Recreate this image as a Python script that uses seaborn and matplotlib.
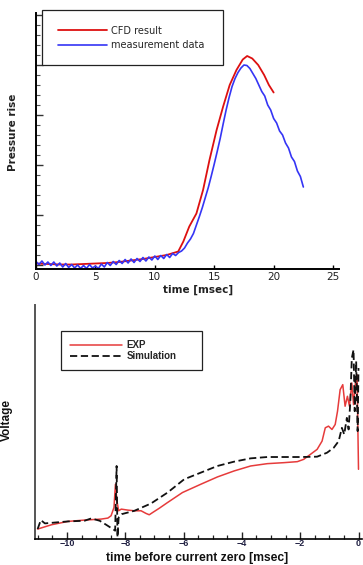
import numpy as np
import pandas as pd
import matplotlib
matplotlib.use("Agg")
import matplotlib.pyplot as plt
from matplotlib.ticker import MultipleLocator, NullFormatter
import seaborn as sns

# ---------------- data: top panel ----------------
cfd_time = [0, 1, 2, 3, 4, 5, 6, 7, 8, 9, 10, 11, 11.97, 12.4, 12.9, 13.5, 14.06,
            14.6, 15.2, 15.75, 16.3, 16.87, 17.4, 17.77, 18.2, 18.7, 19.2, 19.6, 20.0]
cfd_value = [0.03, 0.02, 0.01, 0.01, 0.02, 0.03, 0.04, 0.06, 0.09, 0.12, 0.16, 0.20,
             0.27, 0.47, 0.77, 1.03, 1.50, 2.10, 2.70, 3.17, 3.60, 3.90, 4.11, 4.18,
             4.13, 4.00, 3.80, 3.60, 3.45]

meas_time = [0.00, 0.25, 0.50, 0.75, 1.00, 1.25, 1.50, 1.75, 2.00, 2.25, 2.50, 2.75,
             3.00, 3.25, 3.50, 3.75, 4.00, 4.25, 4.50, 4.75, 5.00, 5.25, 5.50, 5.75,
             6.00, 6.25, 6.50, 6.75, 7.00, 7.25, 7.50, 7.75, 8.00, 8.25, 8.50, 8.75,
             9.00, 9.25, 9.50, 9.75, 10.00, 10.25, 10.50, 10.75, 11.00, 11.25, 11.50,
             11.75, 12.00, 12.25, 12.50, 12.75, 13.00, 13.25, 13.50, 13.75, 14.00,
             14.25, 14.50, 14.75, 15.00, 15.25, 15.50, 15.75, 16.00, 16.25, 16.50,
             16.75, 17.00, 17.25, 17.50, 17.75, 18.00, 18.25, 18.50, 18.75, 19.00,
             19.25, 19.50, 19.75, 20.00, 20.25, 20.50, 20.75, 21.00, 21.25, 21.50,
             21.75, 22.00, 22.25, 22.50]
meas_value = [0.07, 0.01, 0.08, 0.00, 0.06, -0.01, 0.06, -0.02, 0.04, -0.04, 0.03, -0.05,
              0.01, -0.06, 0.00, -0.07, -0.01, -0.07, 0.01, -0.06, -0.02, -0.07, 0.02,
              -0.04, 0.05, -0.01, 0.07, 0.01, 0.09, 0.03, 0.11, 0.04, 0.12, 0.05, 0.13,
              0.07, 0.15, 0.08, 0.16, 0.10, 0.18, 0.11, 0.19, 0.13, 0.21, 0.15, 0.23,
              0.19, 0.25, 0.28, 0.34, 0.44, 0.52, 0.63, 0.80, 0.97, 1.15, 1.35, 1.55,
              1.78, 2.02, 2.27, 2.53, 2.82, 3.10, 3.35, 3.57, 3.73, 3.85, 3.94, 4.00,
              3.99, 3.93, 3.83, 3.73, 3.60, 3.47, 3.38, 3.20, 3.10, 2.93, 2.84, 2.68,
              2.60, 2.44, 2.34, 2.16, 2.07, 1.88, 1.77, 1.56]

top_xticks = [0, 5, 10, 15, 20, 25]

# ---------------- data: bottom panel ----------------
exp_time = [-11.01, -10.53, -9.97, -9.40, -8.83, -8.60, -8.49, -8.39, -8.34, -8.29,
            -8.23, -8.14, -7.91, -7.69, -7.46, -7.29, -7.18, -7.06, -6.83, -6.55,
            -6.04, -5.41, -4.84, -4.27, -3.70, -3.13, -2.56, -2.10, -1.88, -1.65,
            -1.42, -1.25, -1.14, -1.03, -0.91, -0.80, -0.72, -0.63, -0.54, -0.46,
            -0.38, -0.31, -0.23, -0.17, -0.10, -0.05, 0.00]
exp_value = [0.30, 0.43, 0.53, 0.57, 0.60, 0.63, 0.70, 0.95, 1.65, 1.15,
             0.85, 0.90, 0.87, 0.85, 0.85, 0.77, 0.73, 0.80, 0.93, 1.10,
             1.40, 1.65, 1.87, 2.05, 2.20, 2.27, 2.30, 2.33, 2.40, 2.55,
             2.70, 2.95, 3.35, 3.40, 3.30, 3.45, 3.85, 4.50, 4.65, 4.00,
             4.30, 4.00, 4.70, 4.05, 4.75, 4.95, 2.10]

sim_time = [-11.01, -10.90, -10.76, -9.97, -9.40, -9.17, -8.88, -8.66, -8.43, -8.35,
            -8.30, -8.27, -8.23, -8.12, -7.69, -7.12, -6.55, -5.98, -5.41, -4.84,
            -4.27, -3.70, -3.13, -2.56, -1.99, -1.42, -1.08, -0.85, -0.68, -0.57,
            -0.49, -0.40, -0.34, -0.28, -0.23, -0.17, -0.13, -0.08, -0.03, 0.00]
sim_value = [0.30, 0.57, 0.47, 0.53, 0.55, 0.62, 0.55, 0.43, 0.30, 0.25,
             2.20, 0.05, 0.65, 0.75, 0.85, 1.07, 1.40, 1.80, 2.00, 2.20,
             2.33, 2.43, 2.47, 2.47, 2.47, 2.48, 2.60, 2.75, 2.95, 3.35,
             3.15, 3.65, 3.30, 4.15, 5.45, 5.70, 3.85, 5.35, 3.25, 5.15]

bottom_xticks = [-10, -8, -6, -4, -2, 0]

# ---------------- figure ----------------
sns.set_theme(style="white")
plt.rcParams["font.family"] = ["DejaVu Sans"]

W, H = 363, 565
fig = plt.figure(figsize=(W / 100, H / 100), dpi=100)


def px_rect(left, top, right, bottom):
    return [left / W, 1 - bottom / H, (right - left) / W, (bottom - top) / H]


# ---- top panel ----
ax1 = fig.add_axes(px_rect(36, 13, 339, 269))
top_df = pd.DataFrame({"t": cfd_time, "v": cfd_value})
meas_df = pd.DataFrame({"t": meas_time, "v": meas_value})
sns.lineplot(data=top_df, x="t", y="v", ax=ax1, color="#dd1010", lw=1.3,
             estimator=None, label="CFD result")
sns.lineplot(data=meas_df, x="t", y="v", ax=ax1, color="#3535f5", lw=1.2,
             estimator=None, label="measurement data")
ax1.set_xlim(0, 25.5)
ax1.set_ylim(-0.08, 5.04)
ax1.set_xticks(top_xticks)
ax1.yaxis.set_major_locator(MultipleLocator(1))
ax1.yaxis.set_minor_locator(MultipleLocator(0.2))
ax1.yaxis.set_major_formatter(NullFormatter())
for s in ["top", "right"]:
    ax1.spines[s].set_visible(False)
for s in ["left", "bottom"]:
    ax1.spines[s].set_color("black")
    ax1.spines[s].set_linewidth(1.4)
ax1.tick_params(axis="y", which="major", direction="in", length=5, width=1.0,
                color="#333333", left=True)
ax1.tick_params(axis="y", which="minor", direction="in", length=3, width=0.8,
                color="#555555", left=True)
ax1.tick_params(axis="x", which="major", direction="in", length=3, width=1.0,
                color="black", bottom=True, pad=2, labelsize=7.5, labelcolor="#222222")
ax1.set_xlabel("time [msec]", fontsize=7.5, fontweight="bold", color="#222222")
ax1.set_ylabel("Pressure rise", fontsize=7.5, fontweight="bold", color="#222222")
ax1.xaxis.set_label_coords(0.535, -0.082)
ax1.xaxis.label.set_va("center")
ax1.yaxis.set_label_coords(-0.076, 0.535)
ax1.yaxis.label.set_va("center")
leg1 = ax1.legend(loc="upper left", bbox_to_anchor=px_rect(42, 10, 223, 64),
                  bbox_transform=fig.transFigure, mode="expand", borderaxespad=0,
                  fontsize=7, frameon=True, fancybox=False, handlelength=5.1,
                  handletextpad=0.35, borderpad=1.6, labelspacing=0.45)
leg1.get_frame().set_edgecolor("#222222")
leg1.get_frame().set_linewidth(0.9)
leg1.get_frame().set_alpha(1)

# ---- bottom panel ----
ax2 = fig.add_axes(px_rect(35, 305, 362, 539))
exp_df = pd.DataFrame({"t": exp_time, "v": exp_value})
sim_df = pd.DataFrame({"t": sim_time, "v": sim_value})
sns.lineplot(data=exp_df, x="t", y="v", ax=ax2, color="#e63b3b", lw=1.1,
             estimator=None, sort=False, label="EXP")
sns.lineplot(data=sim_df, x="t", y="v", ax=ax2, color="#111111", lw=1.3,
             estimator=None, sort=False, label="Simulation", dashes=False,
             linestyle=(0, (4, 2)))
ax2.set_xlim(-11.1, 0.12)
ax2.set_ylim(0, 7.05)
ax2.set_xticks(bottom_xticks)
ax2.xaxis.set_minor_locator(MultipleLocator(0.5))
ax2.set_yticks([])
for s in ["top", "right"]:
    ax2.spines[s].set_visible(False)
ax2.spines["left"].set_color("#555555")
ax2.spines["left"].set_linewidth(1.4)
ax2.spines["bottom"].set_color("black")
ax2.spines["bottom"].set_linewidth(1.2)
ax2.tick_params(axis="x", which="major", direction="in", length=5, width=1.0,
                color="#222222", bottom=True, pad=0.3, labelsize=6.5, labelcolor="#222244")
ax2.tick_params(axis="x", which="minor", direction="in", length=3, width=0.9,
                color="#222222", bottom=True)
for lab in ax2.get_xticklabels():
    lab.set_fontfamily("Liberation Sans")
    lab.set_fontweight("bold")
ax2.set_xlabel("time before current zero [msec]", fontsize=8.7, fontweight="bold",
               color="#111111", family="Liberation Sans")
ax2.set_ylabel("Voltage", fontsize=8.5, fontweight="bold", color="#111111",
               family="Liberation Sans")
ax2.xaxis.set_label_coords(0.495, -0.081)
ax2.xaxis.label.set_va("center")
ax2.yaxis.set_label_coords(-0.086, 0.508)
ax2.yaxis.label.set_va("center")
leg2 = ax2.legend(loc="upper left", bbox_to_anchor=px_rect(61, 331, 202, 373),
                  bbox_transform=fig.transFigure, mode="expand", borderaxespad=0,
                  prop={"family": "Liberation Sans", "weight": "bold", "size": 7},
                  frameon=True, fancybox=False, handlelength=5.3,
                  handletextpad=0.5, borderpad=0.95, labelspacing=0.1)
leg2.get_frame().set_edgecolor("#222222")
leg2.get_frame().set_linewidth(0.9)
leg2.get_frame().set_alpha(1)

fig.savefig("out.png", dpi=100)
